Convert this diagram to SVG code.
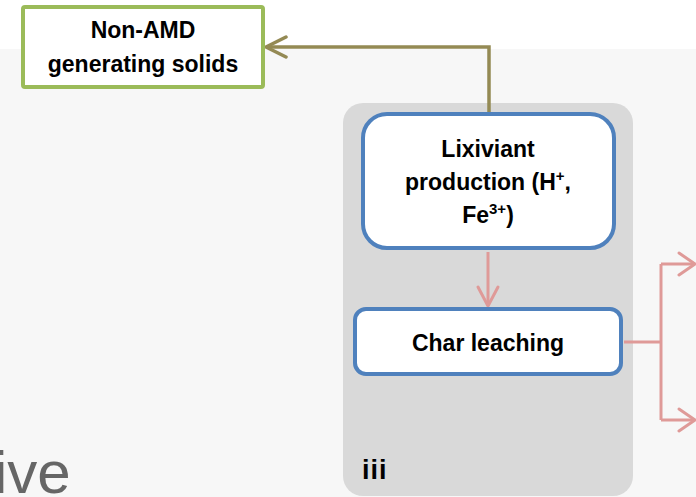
<svg xmlns="http://www.w3.org/2000/svg" width="696" height="497" viewBox="0 0 696 497">
<defs>
<style>
.lbl{font-family:"Liberation Sans",Arial,sans-serif;font-weight:bold;font-size:23px;fill:#000;text-anchor:middle}
.sup{font-size:15px}
.blue{fill:#fff;stroke:#4f81bd;stroke-width:4}
.pink{fill:none;stroke:#df9a98;stroke-width:3}
.olive{fill:none;stroke:#948a54;stroke-width:3.5}
</style>
<marker id="ahOlive" markerUnits="userSpaceOnUse" markerWidth="30" markerHeight="30" refX="22" refY="12" orient="auto" viewBox="0 0 30 24">
<polyline points="2,2 22,12 2,22" fill="none" stroke="#948a54" stroke-width="3.5" stroke-linecap="round" stroke-linejoin="round"/>
</marker>
<marker id="ahPink" markerUnits="userSpaceOnUse" markerWidth="30" markerHeight="30" refX="20" refY="12" orient="auto" viewBox="0 0 30 24">
<polyline points="4,1 20,12 4,23" fill="none" stroke="#df9a98" stroke-width="3" stroke-linecap="round" stroke-linejoin="round"/>
</marker>
<marker id="ahPinkLong" markerUnits="userSpaceOnUse" markerWidth="30" markerHeight="30" refX="22" refY="12" orient="auto" viewBox="0 0 30 24">
<polyline points="3,2 22,12 3,22" fill="none" stroke="#df9a98" stroke-width="3" stroke-linecap="round" stroke-linejoin="round"/>
</marker>
</defs>
<rect x="0" y="0" width="696" height="497" fill="#ffffff"/>
<rect x="0" y="49" width="696" height="448" fill="#f7f7f7"/>
<text x="-6" y="493" font-family="'Liberation Sans',Arial,sans-serif" font-size="60" fill="#666666">ive</text>
<g id="panel-iii">
<rect x="343" y="103" width="290" height="393" rx="20" ry="20" fill="#d9d9d9"/>
<text x="362" y="479" font-family="'Liberation Sans',Arial,sans-serif" font-weight="bold" font-size="27" letter-spacing="1" fill="#000">iii</text>
</g>
<g id="connectors">
<polyline class="olive" points="489,112 489,47 266,47" marker-end="url(#ahOlive)"/>
<line class="pink" x1="488" y1="252" x2="488" y2="306" marker-end="url(#ahPinkLong)"/>
<polyline class="pink" points="624,342 661,342"/>
<polyline class="pink" points="661,264 661,420"/>
<line class="pink" x1="661" y1="264" x2="695" y2="264" marker-end="url(#ahPink)"/>
<line class="pink" x1="661" y1="420" x2="695" y2="420" marker-end="url(#ahPink)"/>
</g>
<g id="non-amd">
<rect x="23" y="7" width="240" height="80" rx="2" fill="#fff" stroke="#9bbb59" stroke-width="4"/>
<text class="lbl" x="143" y="38">Non-AMD</text>
<text class="lbl" x="143" y="72">generating solids</text>
</g>
<g id="lixiviant">
<rect class="blue" x="363" y="114" width="251" height="134" rx="24" ry="24"/>
<text class="lbl" x="488" y="157">Lixiviant</text>
<text class="lbl" x="488" y="190">production (H<tspan class="sup" dy="-9">+</tspan><tspan dy="9">,</tspan></text>
<text class="lbl" x="488" y="223">Fe<tspan class="sup" dy="-9">3+</tspan><tspan dy="9">)</tspan></text>
</g>
<g id="char-leaching">
<rect class="blue" x="355" y="309" width="266" height="65" rx="11" ry="11"/>
<text class="lbl" x="488" y="351">Char leaching</text>
</g>
</svg>
